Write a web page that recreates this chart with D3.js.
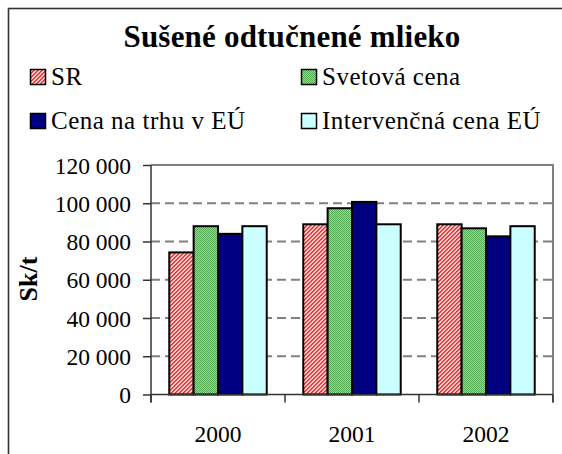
<!DOCTYPE html>
<html>
<head>
<meta charset="utf-8">
<script src="https://cdn.jsdelivr.net/npm/d3@7"></script>
<style>
  html, body { margin: 0; padding: 0; background: #fff; }
  svg { display: block; }
  svg text { fill: #000; }
</style>
</head>
<body>
<svg id="chart" width="562" height="454"></svg>
<script>
const title = "Sušené odtučnené mlieko";
const yAxisTitle = "Sk/t";
const years = ["2000", "2001", "2002"];
const seriesNames = ["SR", "Svetová cena", "Cena na trhu v EÚ", "Intervenčná cena EÚ"];
const sr          = [74300, 89000, 89000];
const svetova     = [88000, 97400, 86900];
const trhEU       = [84000, 100700, 82700];
const intervencna = [88000, 89000, 88000];
const yTicks = [0, 20000, 40000, 60000, 80000, 100000, 120000];

(function () {
const seriesValues = [sr, svetova, trhEU, intervencna];
const fills = ["url(#patRed)", "url(#patGreen)", "#000080", "#CCFFFF"];
const FONT = "'Liberation Serif'";

const svg = d3.select("#chart");
const defs = svg.append("defs");

// red diagonal hatch
const pr = defs.append("pattern").attr("id", "patRed").attr("patternUnits", "userSpaceOnUse")
  .attr("width", 4).attr("height", 4);
pr.append("rect").attr("width", 4).attr("height", 4).attr("fill", "#FFD0D0");
for (let i = 0; i < 4; i++) {
  pr.append("rect").attr("x", i).attr("y", (3 - i + 4) % 4).attr("width", 1).attr("height", 1).attr("fill", "#FF2020");
  pr.append("rect").attr("x", i).attr("y", (4 - i + 4) % 4).attr("width", 1).attr("height", 1).attr("fill", "#FF5050");
}
// green fine checker
const pg = defs.append("pattern").attr("id", "patGreen").attr("patternUnits", "userSpaceOnUse")
  .attr("width", 2).attr("height", 2);
pg.append("rect").attr("width", 2).attr("height", 2).attr("fill", "#A6D6A6");
pg.append("rect").attr("x", 0).attr("y", 0).attr("width", 1).attr("height", 1).attr("fill", "#4FA64F");
pg.append("rect").attr("x", 1).attr("y", 1).attr("width", 1).attr("height", 1).attr("fill", "#4FA64F");

// outer frame (cut off at right/bottom)
svg.append("rect").attr("x", 8.5).attr("y", 8.5).attr("width", 620).attr("height", 520)
  .attr("fill", "none").attr("stroke", "#333").attr("stroke-width", 1.6);

// title
svg.append("text").attr("x", 292).attr("y", 47).attr("text-anchor", "middle")
  .style("font-family", FONT).style("font-size", "31px").style("font-weight", "bold")
  .style("letter-spacing", "0.2px").text(title);

// legend
const legendPos = [[30, 69], [301, 69], [30, 113], [301, 113]];
seriesNames.forEach((name, i) => {
  const [lx, ly] = legendPos[i];
  svg.append("rect").attr("x", lx + 0.5).attr("y", ly + 0.5).attr("width", 15).attr("height", 15)
    .attr("fill", fills[i]).attr("stroke", "#000").attr("stroke-width", 1.5);
  svg.append("text").attr("x", lx + 21).attr("y", ly + 15.5)
    .style("font-family", FONT).style("font-size", "25px").style("letter-spacing", "0.5px").text(name);
});

// scales
const pLeft = 151, pRight = 553, pTop = 165, pBottom = 394.5;
const x0 = d3.scaleBand().domain(years).range([pLeft, pRight]).padding(0);
const x1 = d3.scaleBand().domain(seriesNames).range([0, x0.bandwidth()]).paddingInner(0).paddingOuter(0.75);
const y = d3.scaleLinear().domain([0, 120000]).range([pBottom, pTop]);

// gridlines
svg.append("g").selectAll("line").data(yTicks.filter(t => t > 0 && t < 120000)).join("line")
  .attr("x1", pLeft).attr("x2", pRight).attr("y1", d => y(d)).attr("y2", d => y(d))
  .attr("stroke", "#808080").attr("stroke-width", 2).attr("stroke-dasharray", "9,5");

// plot border top & right
svg.append("path").attr("d", `M${pLeft},${y(120000)}H${pRight}V${pBottom + 8}`)
  .attr("fill", "none").attr("stroke", "#808080").attr("stroke-width", 2);

// bars
const g = svg.append("g");
years.forEach((yr, yi) => {
  seriesNames.forEach((s, si) => {
    const v = seriesValues[si][yi];
    g.append("rect")
      .attr("x", x0(yr) + x1(s)).attr("width", x1.bandwidth())
      .attr("y", y(v)).attr("height", y(0) - y(v))
      .attr("fill", fills[si]).attr("stroke", "#000").attr("stroke-width", 2);
  });
});

// y axis
const loc = d3.formatLocale({ thousands: " ", grouping: [3], decimal: ",", currency: ["", ""] });
const fmt = loc.format(",d");
const yAxis = d3.axisLeft(y).tickValues(yTicks).tickFormat(fmt).tickSize(8).tickPadding(12);
const ya = svg.append("g").attr("transform", `translate(${pLeft},0)`).call(yAxis)
  .attr("font-family", null).attr("font-size", null);
ya.select(".domain").remove();
ya.selectAll(".tick line").attr("stroke", "#333").attr("stroke-width", 1.5);
ya.selectAll(".tick text").style("font-family", FONT).style("font-size", "23.5px").attr("dy", "0.34em");
svg.append("line").attr("x1", pLeft).attr("x2", pLeft).attr("y1", pTop).attr("y2", pBottom + 8)
  .attr("stroke", "#333").attr("stroke-width", 1.5);

// x axis
svg.append("line").attr("x1", pLeft).attr("x2", pRight).attr("y1", pBottom).attr("y2", pBottom)
  .attr("stroke", "#333").attr("stroke-width", 1.5);
const bounds = years.map(yr => x0(yr)).concat([pRight]);
svg.append("g").selectAll("line").data(bounds).join("line")
  .attr("x1", d => d).attr("x2", d => d).attr("y1", pBottom).attr("y2", pBottom + 8)
  .attr("stroke", "#333").attr("stroke-width", 1.5);
svg.append("g").selectAll("text").data(years).join("text")
  .attr("x", d => x0(d) + x0.bandwidth() / 2).attr("y", 441.5)
  .attr("text-anchor", "middle").style("font-family", FONT).style("font-size", "23.5px").text(d => d);

// y axis title
svg.append("text").attr("transform", "translate(37,279) rotate(-90)")
  .attr("text-anchor", "middle").style("font-family", FONT).style("font-size", "26px")
  .style("font-weight", "bold").text(yAxisTitle);
})();
</script>
</body>
</html>
